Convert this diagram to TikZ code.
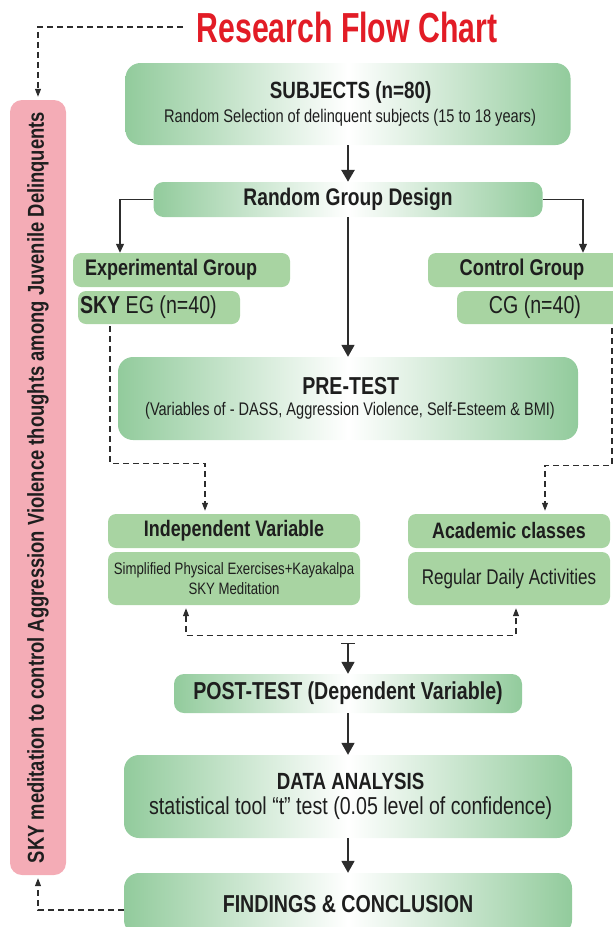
\documentclass[tikz,border=0pt]{standalone}
\usepackage{fontspec}
\setmainfont{Liberation Sans}[FakeStretch=0.8]
\newfontfamily\titlefont{Liberation Sans}[FakeStretch=0.72]
\usepackage{tikz}
\usetikzlibrary{positioning, arrows.meta, calc}
\usepackage{xcolor}
\definecolor{flowgreen}{RGB}{146, 203, 156}
\definecolor{flowsolid}{RGB}{168, 212, 162}
\definecolor{flowpink}{RGB}{244, 172, 182}
\definecolor{flowred}{RGB}{226, 28, 38}
\definecolor{flowtext}{RGB}{30, 30, 30}
\definecolor{flowline}{RGB}{45, 45, 45}
\newcommand{\fsz}[1]{\fontsize{#1}{#1}\selectfont}

\begin{document}
\begin{tikzpicture}[x=1pt, y=1pt,
    gradbox/.style={rounded corners=15pt, left color=flowgreen, right color=flowgreen, middle color=white, text=flowtext, align=center, inner sep=0pt},
    solidbox/.style={rounded corners=8pt, fill=flowsolid, text=flowtext, inner sep=0pt},
    mainarr/.style={line width=2.2pt, flowline, -{Triangle[length=12pt, width=13pt]}},
    brancharr/.style={line width=1.2pt, flowline, -{Triangle[length=9pt, width=8pt]}},
    dasharr/.style={line width=1.1pt, flowline, dash pattern=on 6pt off 4pt, -{Triangle[length=8pt, width=6pt]}}]
    \useasboundingbox (0,0) rectangle (613,-927);
    \clip (0,0) rectangle (613,-927);
    % Title
    \node[text=flowred, font=\titlefont\bfseries\fsz{42}] (title) at (347,-27) {Research Flow Chart};
    % Side bar
    \node[rounded corners=12pt, fill=flowpink, rotate=90, minimum width=775pt, minimum height=56pt, inner sep=0pt, text=flowtext, font=\bfseries\fsz{23}] (side) at (38,-487.5) {SKY meditation to control Aggression Violence thoughts among Juvenile Delinquents};
    % Main flow
    \node[gradbox, minimum width=445pt, minimum height=82pt] (subj) at (348,-104) {{\bfseries\fsz{23.5} SUBJECTS (n=80)}\\[5pt] {\fsz{18.3} Random Selection of delinquent subjects (15 to 18 years)}};
    \node[gradbox, rounded corners=10pt, minimum width=389pt, minimum height=35pt, font=\bfseries\fsz{24}] (rgd) at (348,-199.5) {Random Group Design};
    % Groups
    \node[solidbox, minimum height=34pt, text width=193pt, inner xsep=12pt, align=flush left, font=\bfseries\fsz{22.5}] (eg) at (181.5,-270) {Experimental Group};
    \node[solidbox, minimum height=33pt, text width=158pt, inner xsep=2pt, align=flush left, font=\fsz{24.5}] (skyeg) at (159,-307.5) {\textbf{SKY} EG (n=40)};
    \node[solidbox, minimum width=197pt, minimum height=34pt, font=\bfseries\fsz{22.8}] (cg) at (526.5,-270) {\hspace*{-9pt}Control Group};
    \node[solidbox, minimum width=168pt, minimum height=33pt, font=\fsz{24.5}] (cgn) at (541,-307.5) {\hspace*{-12pt}CG (n=40)};
    \node[gradbox, minimum width=460pt, minimum height=83pt] (pre) at (348,-398.5) {{\bfseries\fsz{24.5} PRE-TEST}\\[6pt] {\fsz{18.2} (Variables of - DASS, Aggression Violence, Self-Esteem \& BMI)}};
    % Treatments
    \node[solidbox, minimum width=252pt, minimum height=34pt, font=\bfseries\fsz{22.4}] (iv) at (234,-531) {Independent Variable};
    \node[solidbox, minimum width=252pt, minimum height=53pt, align=center, font=\fsz{16.5}] (ivd) at (234,-578.5) {Simplified Physical Exercises+Kayakalpa\\[3pt] SKY Meditation};
    \node[solidbox, minimum width=202pt, minimum height=34pt, font=\bfseries\fsz{22.3}] (ac) at (509,-531) {Academic classes};
    \node[solidbox, minimum width=202pt, minimum height=53pt, font=\fsz{21.3}] (acd) at (509,-578.5) {Regular Daily Activities};
    % Results
    \node[gradbox, rounded corners=10pt, minimum width=348pt, minimum height=39pt, font=\bfseries\fsz{24.5}] (post) at (348,-693.5) {POST-TEST (Dependent Variable)};
    \node[gradbox, minimum width=448pt, minimum height=83pt] (data) at (348,-796.5) {{\bfseries\fsz{23.4} DATA ANALYSIS}\\[6pt] {\fsz{24.5} statistical tool “t” test (0.05 level of confidence)}};
    \node[gradbox, minimum width=448pt, minimum height=62pt, font=\bfseries\fsz{24.5}] (find) at (348,-904) {FINDINGS \& CONCLUSION};
    % Arrows
    \draw[mainarr, line width=2.8pt] (subj) -- (rgd);
    \draw[brancharr] (rgd.west) -| ([xshift=-61.5pt]eg.north);
    \draw[brancharr] (rgd.east) -| ([xshift=56.5pt]cg.north);
    \draw[mainarr, line width=1.8pt] (rgd) -- (pre);
    \draw[dasharr] ([xshift=-49pt, yshift=-2pt]skyeg.south) -- ++(0,-137) -| ([xshift=-29pt, yshift=3pt]iv.north);
    \draw[dasharr] ([xshift=71pt, yshift=-4pt]cgn.south) -- ++(0,-137) -| ([xshift=36pt, yshift=3pt]ac.north);
    \draw[dasharr, {Triangle[length=8pt, width=6pt]}-{Triangle[length=8pt, width=6pt]}] ([xshift=-48pt, yshift=-3pt]ivd.south) -- ++(0,-27) -| ([xshift=7pt, yshift=-3pt]acd.south);
    \draw[mainarr, {Bar[width=14pt, line width=1.5pt]}-{Triangle[length=12pt, width=13pt]}, line width=1.8pt] ([yshift=31pt]post.north) -- (post.north);
    \draw[mainarr, line width=1.8pt] (post) -- (data);
    \draw[mainarr, line width=1.8pt] (data) -- (find);
    % Side links
    \draw[dasharr] ([xshift=-10pt]title.west) -| ([yshift=3pt]side.east);
    \draw[dasharr] ([yshift=-6pt]find.west) -| ([yshift=-3pt]side.west);
\end{tikzpicture}
\end{document}
